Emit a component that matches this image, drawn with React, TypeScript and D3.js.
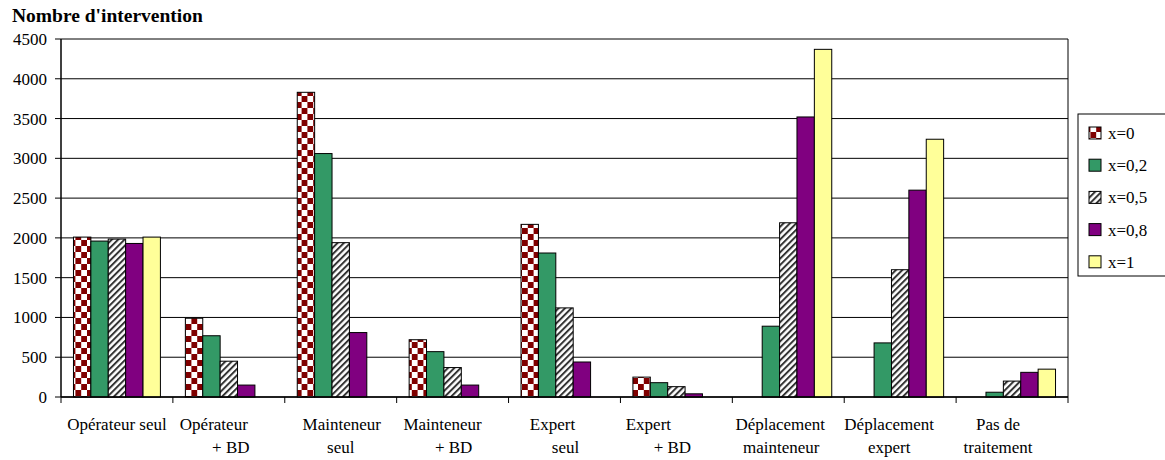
import React from "react";
import * as d3 from "d3";

const categories = [
  ["Opérateur seul"],
  ["Opérateur", "+ BD"],
  ["Mainteneur", "seul"],
  ["Mainteneur", "+ BD"],
  ["Expert", "seul"],
  ["Expert", "+ BD"],
  ["Déplacement", "mainteneur"],
  ["Déplacement", "expert"],
  ["Pas de", "traitement"],
];

const seriesNames = ["x=0", "x=0,2", "x=0,5", "x=0,8", "x=1"];

const serX0 = [2010, 990, 3830, 720, 2170, 250, 0, 0, 0];
const serX02 = [1960, 770, 3060, 570, 1810, 180, 890, 680, 60];
const serX05 = [1985, 450, 1940, 370, 1120, 130, 2190, 1600, 200];
const serX08 = [1930, 150, 810, 150, 440, 40, 3520, 2600, 310];
const serX1 = [2010, 0, 0, 0, 0, 0, 4370, 3240, 350];

const yTicks = [0, 500, 1000, 1500, 2000, 2500, 3000, 3500, 4000, 4500];

const seriesValues = [serX0, serX02, serX05, serX08, serX1];

// layout / style (not data)
const W = 1165;
const H = 460;
const left = 61;
const right = 1068;
const top = 39;
const bottom = 397;
const FONT = "'Liberation Serif', 'DejaVu Serif', 'Times New Roman', serif";
const fills = ["url(#chk)", "#339966", "url(#stripe)", "#800080", "#FFFF99"];
const labelShift = [
  [0],
  [-15, 2],
  [1, 0],
  [-10, 1],
  [-12, 1],
  [-28, -4],
  [-8, -7],
  [-11, -11],
  [-14, -14],
];

export default function App() {
  const x = d3
    .scaleBand<number>()
    .domain(d3.range(categories.length))
    .range([left, right])
    .paddingInner(0.223)
    .paddingOuter(0.1115);
  const xs = d3
    .scaleBand<number>()
    .domain(d3.range(seriesNames.length))
    .range([0, x.bandwidth()]);
  const y = d3.scaleLinear().domain([0, 4500]).range([bottom, top]);
  const step = x.step();
  const boundaries = d3.range(categories.length + 1).map((i) => left + i * step);

  return (
    <svg
      width={W}
      height={H}
      style={{ position: "absolute", left: 0, top: 0, background: "#fff", fontFamily: FONT }}
    >
      <defs>
        <pattern id="chk" patternUnits="userSpaceOnUse" width={11.6} height={12} x={0} y={0}>
          <rect width={11.6} height={12} fill="#fff" />
          <rect x={0} y={0} width={5.8} height={6} fill="#800000" />
          <rect x={5.8} y={6} width={5.8} height={6} fill="#800000" />
        </pattern>
        <pattern
          id="stripe"
          patternUnits="userSpaceOnUse"
          width={4.5}
          height={4.5}
          patternTransform="rotate(45)"
        >
          <rect width={4.5} height={4.5} fill="#fff" />
          <line x1={1} y1={0} x2={1} y2={4.5} stroke="#333" strokeWidth={2} />
        </pattern>
      </defs>
      <rect x={0} y={0} width={W} height={H} fill="#fff" />

      <text x={12} y={22} fontSize={19.5} fontWeight="bold" fill="#000" style={{ fontFamily: FONT }}>
        Nombre d'intervention
      </text>

      {yTicks.map((t) => (
        <line key={"g" + t} x1={left} x2={right} y1={y(t)} y2={y(t)} stroke="#000" strokeWidth={1} />
      ))}
      <line x1={right} x2={right} y1={top} y2={bottom} stroke="#000" strokeWidth={1} />

      {seriesValues.map((vals, s) =>
        vals.map((v, i) =>
          v > 0 ? (
            <rect
              key={`b${s}-${i}`}
              x={(x(i) as number) + (xs(s) as number)}
              y={y(v)}
              width={xs.bandwidth()}
              height={bottom - y(v)}
              fill={fills[s]}
              stroke="#000"
              strokeWidth={1}
            />
          ) : null
        )
      )}

      <line x1={left} x2={left} y1={top} y2={bottom} stroke="#000" strokeWidth={1.5} />
      <line x1={left} x2={right} y1={bottom} y2={bottom} stroke="#000" strokeWidth={1.5} />
      {yTicks.map((t) => (
        <g key={"yt" + t}>
          <line x1={left - 6} x2={left} y1={y(t)} y2={y(t)} stroke="#000" />
          <text x={47} y={y(t)} dy="0.35em" textAnchor="end" fontSize={17} fill="#000" style={{ fontFamily: FONT }}>
            {t}
          </text>
        </g>
      ))}
      {boundaries.map((bx, i) => (
        <line key={"xt" + i} x1={bx} x2={bx} y1={bottom} y2={bottom + 6} stroke="#000" />
      ))}
      {categories.map((lines, i) => {
        const cx = (x(i) as number) + x.bandwidth() / 2;
        return (
          <text key={"xl" + i} fontSize={17} fill="#000" textAnchor="middle" style={{ fontFamily: FONT }}>
            {lines.map((ln, j) => (
              <tspan key={j} x={cx + labelShift[i][j]} y={430 + j * 23}>
                {ln}
              </tspan>
            ))}
          </text>
        );
      })}

      <rect x={1078} y={114} width={100} height={162} fill="#fff" stroke="#000" strokeWidth={1} />
      {seriesNames.map((n, s) => {
        const cy = 133 + s * 32.2;
        return (
          <g key={"lg" + s}>
            <rect x={1089} y={cy - 6} width={12} height={12} fill={fills[s]} stroke="#000" strokeWidth={1} />
            <text x={1108} y={cy} dy="0.35em" fontSize={17} fill="#000" style={{ fontFamily: FONT }}>
              {n}
            </text>
          </g>
        );
      })}
    </svg>
  );
}
